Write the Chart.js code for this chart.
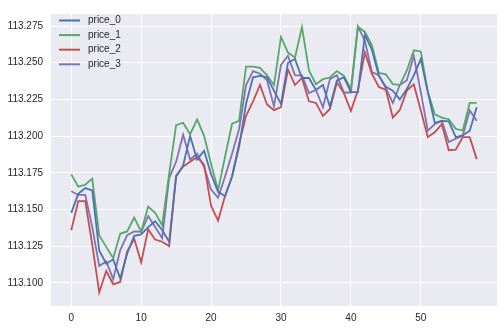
<!DOCTYPE html>
<html>
<head>
<meta charset="utf-8">
<script src="https://cdn.jsdelivr.net/npm/chart.js@4.4.1/dist/chart.umd.min.js"></script>
<style>
  html, body { margin: 0; padding: 0; background: #ffffff; }
  #myChart { display: block; }
</style>
</head>
<body>
<canvas id="myChart" width="504" height="330"></canvas>
<script>
// values, index 0..58
const seriesNames = ['price_0', 'price_1', 'price_2', 'price_3'];
const seriesColors = ['#4c72b0', '#55a868', '#c44e52', '#8172b2'];

const price0 = [
  113.1477, 113.1606, 113.1646, 113.1630, 113.1220, 113.1130, 113.1160, 113.1030, 113.1200, 113.1320,
  113.1330, 113.1380, 113.1420, 113.1360, 113.1280, 113.1725, 113.1800, 113.2000, 113.1840, 113.1900,
  113.1740, 113.1620, 113.1590, 113.1725, 113.1925, 113.2220, 113.2400, 113.2410, 113.2400, 113.2310,
  113.2220, 113.2500, 113.2525, 113.2396, 113.2396, 113.2314, 113.2348, 113.2200, 113.2380, 113.2400,
  113.2300, 113.2300, 113.2690, 113.2590, 113.2410, 113.2336, 113.2310, 113.2250, 113.2320, 113.2414,
  113.2525, 113.2300, 113.2090, 113.2104, 113.2100, 113.1993, 113.2004, 113.2037, 113.2197
];
const price1 = [
  113.1739, 113.1655, 113.1668, 113.1710, 113.1323, 113.1245, 113.1168, 113.1334, 113.1350, 113.1445,
  113.1350, 113.1519, 113.1477, 113.1393, 113.1743, 113.2075, 113.2091, 113.2013, 113.2113, 113.2002,
  113.1810, 113.1630, 113.1860, 113.2084, 113.2104, 113.2474, 113.2474, 113.2465, 113.2414, 113.2348,
  113.2676, 113.2569, 113.2536, 113.2742, 113.2447, 113.2354, 113.2388, 113.2399, 113.2443, 113.2410,
  113.2320, 113.2745, 113.2710, 113.2620, 113.2430, 113.2421, 113.2354, 113.2348, 113.2447, 113.2585,
  113.2577, 113.2303, 113.2148, 113.2126, 113.2115, 113.2049, 113.2038, 113.2226, 113.2226
];
const price2 = [
  113.1358, 113.1557, 113.1557, 113.1260, 113.0935, 113.1080, 113.0990, 113.1006, 113.1215, 113.1300,
  113.1140, 113.1364, 113.1295, 113.1280, 113.1250, 113.1730, 113.1792, 113.1825, 113.1855, 113.1805,
  113.1525, 113.1424, 113.1592, 113.1725, 113.1947, 113.2137, 113.2237, 113.2348, 113.2215, 113.2177,
  113.2197, 113.2454, 113.2348, 113.2396, 113.2237, 113.2226, 113.2137, 113.2185, 113.2366, 113.2293,
  113.2172, 113.2310, 113.2570, 113.2425, 113.2335, 113.2315, 113.2126, 113.2178, 113.2310, 113.2352,
  113.2175, 113.1993, 113.2026, 113.2082, 113.1904, 113.1908, 113.1993, 113.1993, 113.1843
];
const price3 = [
  113.1624, 113.1599, 113.1599, 113.1380, 113.1115, 113.1146, 113.1025, 113.1223, 113.1325, 113.1350,
  113.1348, 113.1455, 113.1380, 113.1304, 113.1714, 113.1825, 113.2009, 113.1840, 113.1880, 113.1790,
  113.1636, 113.1580, 113.1725, 113.1880, 113.2047, 113.2348, 113.2443, 113.2425, 113.2381, 113.2203,
  113.2485, 113.2547, 113.2414, 113.2414, 113.2293, 113.2314, 113.2196, 113.2388, 113.2414, 113.2297,
  113.2297, 113.2747, 113.2650, 113.2436, 113.2415, 113.2326, 113.2226, 113.2348, 113.2381, 113.2547,
  113.2300, 113.2037, 113.2082, 113.2104, 113.1960, 113.1982, 113.2004, 113.2175, 113.2104
];

const xTicks = [0, 10, 20, 30, 40, 50];
const yTicks = [113.100, 113.125, 113.150, 113.175, 113.200, 113.225, 113.250, 113.275];

const allSeries = [price0, price1, price2, price3];
const textColor = '#262626';
const fontFamily = '"Liberation Sans", Arial, sans-serif';

const datasets = allSeries.map(function(vals, k) {
  return {
    label: seriesNames[k],
    data: vals.map(function(v, i) { return { x: i, y: v }; }),
    borderColor: seriesColors[k],
    backgroundColor: seriesColors[k],
    borderWidth: 1.8,
    pointRadius: 0,
    tension: 0,
    fill: false
  };
});

// grey panel behind the plot, like seaborn darkgrid
const panelBg = {
  id: 'panelBg',
  beforeDraw: function(chart) {
    const c = chart.ctx, a = chart.chartArea;
    c.save();
    c.fillStyle = '#ffffff';
    c.fillRect(0, 0, chart.width, chart.height);
    c.fillStyle = '#eaeaf2';
    c.fillRect(a.left, a.top, a.right - a.left, a.bottom - a.top);
    c.restore();
  }
};

// legend without frame in the upper left corner
const cornerLegend = {
  id: 'cornerLegend',
  afterDatasetsDraw: function(chart) {
    const c = chart.ctx;
    c.save();
    c.font = '10px ' + fontFamily;
    c.textBaseline = 'middle';
    c.textAlign = 'left';
    chart.data.datasets.forEach(function(ds, k) {
      const y = 20.5 + k * 14.6;
      c.strokeStyle = ds.borderColor;
      c.lineWidth = 2;
      c.beginPath();
      c.moveTo(59, y);
      c.lineTo(80, y);
      c.stroke();
      c.fillStyle = textColor;
      c.fillText(ds.label, 88, y);
    });
    c.restore();
  }
};

const myChart = new Chart(document.getElementById('myChart').getContext('2d'), {
  type: 'line',
  data: { datasets: datasets },
  options: {
    responsive: false,
    animation: false,
    devicePixelRatio: 1,
    layout: { padding: { top: 7, right: 7, left: 0, bottom: 0 } },
    scales: {
      x: {
        type: 'linear',
        min: -2.9,
        max: 60.9,
        afterBuildTicks: function(scale) {
          scale.ticks = xTicks.map(function(v) { return { value: v }; });
        },
        afterFit: function(scale) { scale.height = 24; },
        grid: { color: '#ffffff', lineWidth: 1, drawTicks: false },
        border: { display: false },
        ticks: {
          color: textColor,
          padding: 6,
          maxRotation: 0,
          font: { family: fontFamily, size: 10 },
          callback: function(v) { return String(v); }
        }
      },
      y: {
        type: 'linear',
        min: 113.0842,
        max: 113.2832,
        afterBuildTicks: function(scale) {
          scale.ticks = yTicks.map(function(v) { return { value: v }; });
        },
        afterFit: function(scale) { scale.width = 51; },
        grid: { color: '#ffffff', lineWidth: 1, drawTicks: false },
        border: { display: false },
        ticks: {
          color: textColor,
          padding: 8,
          font: { family: fontFamily, size: 10 },
          callback: function(v) { return Number(v).toFixed(3); }
        }
      }
    },
    plugins: {
      legend: { display: false },
      tooltip: { enabled: false }
    }
  },
  plugins: [panelBg, cornerLegend]
});
</script>
</body>
</html>
